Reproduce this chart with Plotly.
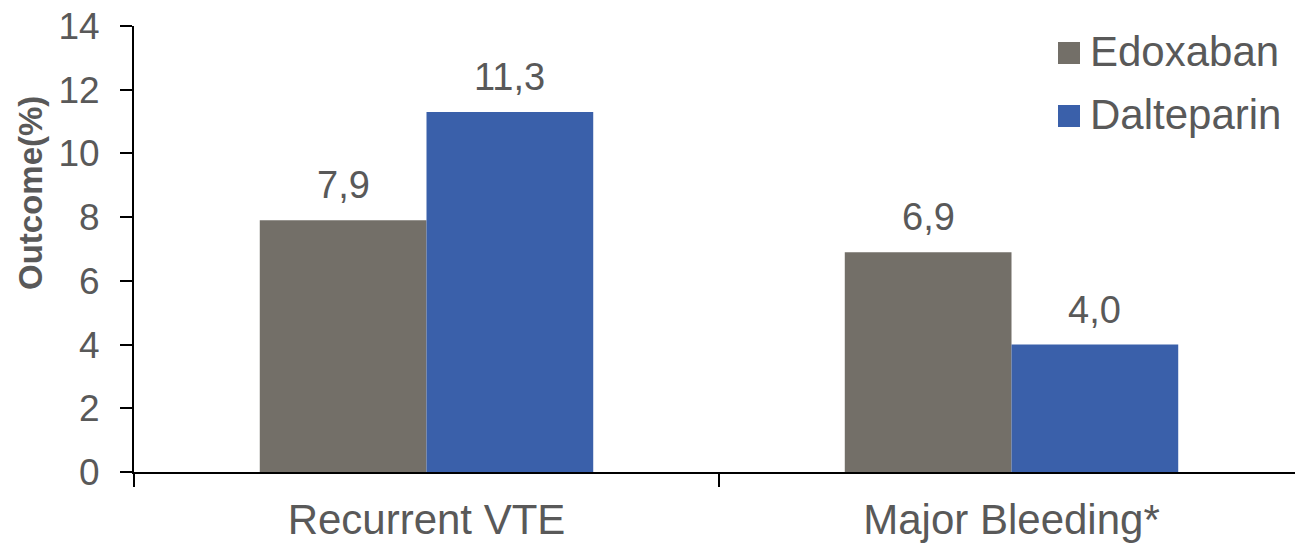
import plotly.graph_objects as go

# Chart data
categories = ["Recurrent VTE", "Major Bleeding*"]
series_names = ["Edoxaban", "Dalteparin"]
edoxaban = [7.9, 6.9]
dalteparin = [11.3, 4.0]
series_values = [edoxaban, dalteparin]
series_colors = ["#736F68", "#3A60AA"]
y_ticks = [0, 2, 4, 6, 8, 10, 12, 14]

FONT = "Liberation Sans, Arial, sans-serif"
TEXT_COLOR = "#595959"

W, H = 1295, 544
M_L, M_R, M_T, M_B = 134, 0, 26, 72
BARGAP = 0.43
CAT_PX = 585  # pixels per category slot
plot_w = W - M_L - M_R
x_span = plot_w / CAT_PX
x_range = [-0.5, -0.5 + x_span]

fig = go.Figure()
for name, vals, color in zip(series_names, series_values, series_colors):
    fig.add_trace(go.Bar(
        name=name, x=categories, y=vals,
        marker=dict(color=color, line=dict(width=0)),
        showlegend=False,
    ))

# value labels above each bar (decimal comma)
bar_px = (1 - BARGAP) / len(series_names) * CAT_PX
annotations = []
for i, vals in enumerate(series_values):
    offset = (i - (len(series_names) - 1) / 2) * bar_px
    for cat, v in zip(categories, vals):
        annotations.append(dict(
            x=cat, y=v, xref="x", yref="y",
            text=f"{v:.1f}".replace(".", ","),
            showarrow=False, xanchor="center", yanchor="bottom",
            xshift=offset, yshift=12,
            font=dict(family=FONT, size=38, color=TEXT_COLOR),
        ))

# y-axis title
annotations.append(dict(
    x=(30 - M_L) / plot_w, y=(H - M_B - 193) / (H - M_T - M_B),
    xref="paper", yref="paper", text="<b>Outcome(%)</b>", textangle=-90,
    showarrow=False, xanchor="center", yanchor="middle",
    font=dict(family=FONT, size=33, color=TEXT_COLOR),
))

# legend: colour squares with labels
plot_h = H - M_T - M_B
shapes = []
sq = 22
leg_x0 = 1058
leg_y0 = [42, 105]
for name, color, top in zip(series_names, series_colors, leg_y0):
    shapes.append(dict(
        type="rect", xref="paper", yref="paper",
        x0=(leg_x0 - M_L) / plot_w, x1=(leg_x0 + sq - M_L) / plot_w,
        y0=(H - M_B - top - sq) / plot_h, y1=(H - M_B - top) / plot_h,
        fillcolor=color, line=dict(width=0),
    ))
    annotations.append(dict(
        x=(1088 - M_L) / plot_w, y=(H - M_B - top - sq / 2 + 2) / plot_h,
        xref="paper", yref="paper", text=name, showarrow=False,
        xanchor="left", yanchor="middle",
        font=dict(family=FONT, size=42, color=TEXT_COLOR),
    ))

fig.update_layout(
    width=W, height=H,
    margin=dict(l=M_L, r=M_R, t=M_T, b=M_B, pad=0),
    paper_bgcolor="white", plot_bgcolor="white",
    barmode="group", bargap=BARGAP, bargroupgap=0,
    showlegend=False,
    annotations=annotations, shapes=shapes,
    xaxis=dict(
        type="category", range=x_range,
        showline=True, linecolor="black", linewidth=2,
        ticks="outside", tickson="boundaries", ticklen=13, tickwidth=2, tickcolor="black",
        tickfont=dict(family=FONT, size=42, color=TEXT_COLOR),
        ticklabelstandoff=10,
        showgrid=False, zeroline=False,
    ),
    yaxis=dict(
        range=[0, 14], tickvals=y_ticks, ticktext=[str(t) for t in y_ticks],
        showline=True, linecolor="black", linewidth=2,
        ticks="outside", ticklen=12, tickwidth=2, tickcolor="black",
        tickfont=dict(family=FONT, size=37, color=TEXT_COLOR),
        ticklabelstandoff=13,
        showgrid=False, zeroline=False,
    ),
)

fig.write_html("out.html")
